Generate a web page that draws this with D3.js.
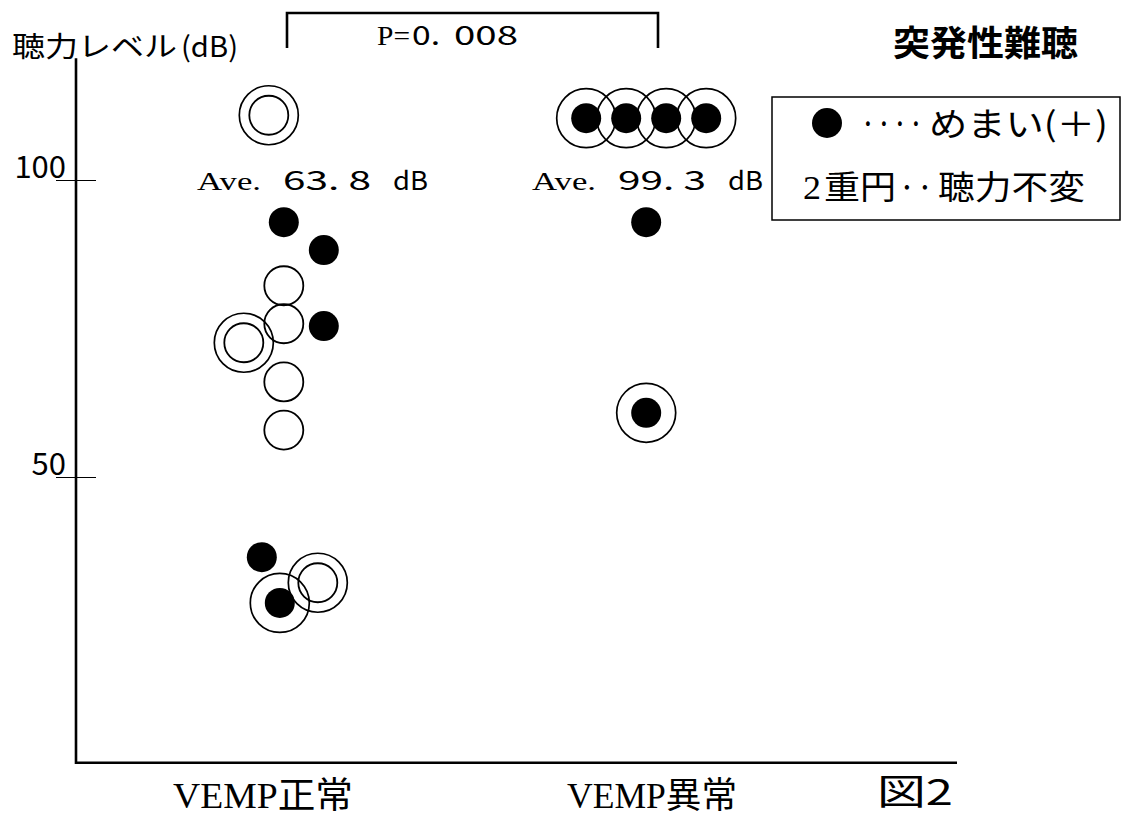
<!DOCTYPE html>
<html>
<head>
<meta charset="utf-8">
<script src="https://cdn.jsdelivr.net/npm/d3@7"></script>
<style>
  body { margin: 0; background: #fff; }
  svg { display: block; }
</style>
</head>
<body>
<div id="chart"></div>
<script>
// categories
var groups = ["VEMP正常", "VEMP異常"];
var groupAverages = ["63. 8", "99. 3"];

// one entry per patient
var pointGroup = [
    "VEMP正常", "VEMP正常", "VEMP正常", "VEMP正常", "VEMP正常", "VEMP正常",
    "VEMP正常", "VEMP正常", "VEMP正常", "VEMP正常", "VEMP正常", "VEMP正常",
    "VEMP異常", "VEMP異常", "VEMP異常", "VEMP異常", "VEMP異常", "VEMP異常"];
var pointLevel = [
    110.9, 92.9, 88.2, 82.2, 75.8, 75.4, 72.6, 66.0, 57.9, 36.5, 28.8, 32.2,
    110.4, 110.4, 110.4, 110.4, 92.9, 60.8];
// side-by-side index used to keep overlapping patients apart
var pointDodge = [
    -0.75, 0, 2, 0, 0, 2, -2, 0, 0, -1.1, -0.2, 1.7,
    -3, -1, 1, 3, 0, 0];
// めまい(+)  -> filled dot
var pointVertigo = [
    false, true, true, false, false, true, false, false, false, true, true, false,
    true, true, true, true, true, true];
// 聴力不変 -> double circle
var pointUnchanged = [
    true, false, false, false, false, false, true, false, false, false, true, true,
    true, true, true, true, false, true];

var yTicks = [50, 100];

var width = 1123, height = 817;
var sans = "'Noto Sans CJK JP', 'Noto Sans', sans-serif",
    serif = "'Liberation Serif', 'DejaVu Serif', serif";

var svg = d3.select("#chart")
    .append("svg")
    .attr("width", width)
    .attr("height", height)
    .style("background", "#fff");

// small helper: a text stretched to the width it has in the scan
function fitText(str, x0, y0, len, size, family, weight) {
    return svg.append("text")
        .attr("x", x0)
        .attr("y", y0)
        .attr("textLength", len)
        .attr("lengthAdjust", "spacingAndGlyphs")
        .style("font-family", family)
        .style("font-weight", weight || 400)
        .style("font-size", size + "px")
        .text(str);
}

// scales
var x = d3.scalePoint()
    .domain(groups)
    .range([70, 860])
    .padding(0.59);

var dodge = d3.scaleLinear()
    .domain([0, 1])
    .range([0, 20]);

var y = d3.scaleLinear()
    .domain([0, 100])
    .range([774, 180]);

var axisX = 76;

// axis frame (left + bottom)
svg.append("path")
    .attr("d", "M" + axisX + "," + y(120.5) + "V" + y(1.9) + "H957")
    .attr("fill", "none")
    .attr("stroke", "#000")
    .attr("stroke-width", 2.6);

// y ticks
var yAxis = svg.append("g")
    .attr("transform", "translate(" + axisX + ",0)")
    .call(d3.axisLeft(y).tickValues(yTicks).tickSize(20));

yAxis.select(".domain").remove();
yAxis.selectAll(".tick line")
    .attr("x1", 20)
    .attr("x2", -20)
    .attr("stroke", "#000")
    .attr("stroke-width", 1.2);
yAxis.selectAll(".tick text")
    .attr("x", -10)
    .attr("dy", "-0.08em")
    .attr("fill", "#000")
    .style("font-family", sans)
    .style("font-size", "31px");

// y axis title
fitText("聴力レベル", 12, 57, 165, 28, sans);
fitText("(dB)", 181, 57, 57, 28, sans);

// chart title
fitText("突発性難聴", 893, 56, 185, 35, sans, 700);

// significance bracket
svg.append("path")
    .attr("d", "M287,48V13H658V48")
    .attr("fill", "none")
    .attr("stroke", "#000")
    .attr("stroke-width", 2.6);

fitText("P=", 377, 45, 33, 27, serif);
fitText("0.", 412, 45, 28, 27, sans);
fitText("008", 454, 45, 64, 27, sans);

// averages
var aveX = [197, 532];
groups.forEach(function(g, i) {
    fitText("Ave.", aveX[i], 190, 64, 26, serif);
    fitText(groupAverages[i], aveX[i] + 86, 190, 88, 26, sans);
    fitText("dB", aveX[i] + 196, 190, 35, 26, sans);
});

// x labels
var labelX = [263, 652];
groups.forEach(function(g, i) {
    var t = svg.append("text")
        .attr("x", labelX[i])
        .attr("y", 808)
        .attr("text-anchor", "middle")
        .attr("textLength", i === 0 ? 180 : 170)
        .attr("lengthAdjust", "spacingAndGlyphs")
        .style("font-size", "36px");
    t.append("tspan").style("font-family", serif).text(g.slice(0, 4));
    t.append("tspan").style("font-family", sans).text(g.slice(4));
});

fitText("図2", 877, 805, 76, 36, sans);

// points
var points = pointLevel.map(function(v, i) {
    return {
        group: pointGroup[i],
        level: v,
        dodge: pointDodge[i],
        vertigo: pointVertigo[i],
        unchanged: pointUnchanged[i]
    };
});

var marks = svg.append("g")
    .selectAll("g")
    .data(points)
    .enter()
    .append("g")
    .attr("transform", function(d) {
        return "translate(" + (x(d.group) + dodge(d.dodge)) + "," + y(d.level) + ")";
    });

// outer ring for 聴力不変
marks.filter(function(d) { return d.unchanged; })
    .append("circle")
    .attr("r", 29.5)
    .attr("fill", "none")
    .attr("stroke", "#000")
    .attr("stroke-width", 1.7);

// open circles
marks.filter(function(d) { return !d.vertigo; })
    .append("circle")
    .attr("r", 19.5)
    .attr("fill", "none")
    .attr("stroke", "#000")
    .attr("stroke-width", 1.8);

// filled dots
marks.filter(function(d) { return d.vertigo; })
    .append("circle")
    .attr("r", 15)
    .attr("fill", "#000");

// legend
svg.append("rect")
    .attr("x", 772)
    .attr("y", 97)
    .attr("width", 348)
    .attr("height", 123)
    .attr("fill", "#fff")
    .attr("stroke", "#000")
    .attr("stroke-width", 1.5);

svg.append("circle")
    .attr("cx", 827)
    .attr("cy", 123)
    .attr("r", 15)
    .attr("fill", "#000");

fitText("····", 860, 136, 64, 34, sans);
fitText("めまい(＋)", 929, 136, 179, 33, sans);

fitText("2", 803, 199, 18, 34, serif);
fitText("重円", 824, 199, 72, 33, sans);
fitText("··", 898, 199, 36, 33, sans);
fitText("聴力不変", 938, 199, 147, 33, sans);
</script>
</body>
</html>
